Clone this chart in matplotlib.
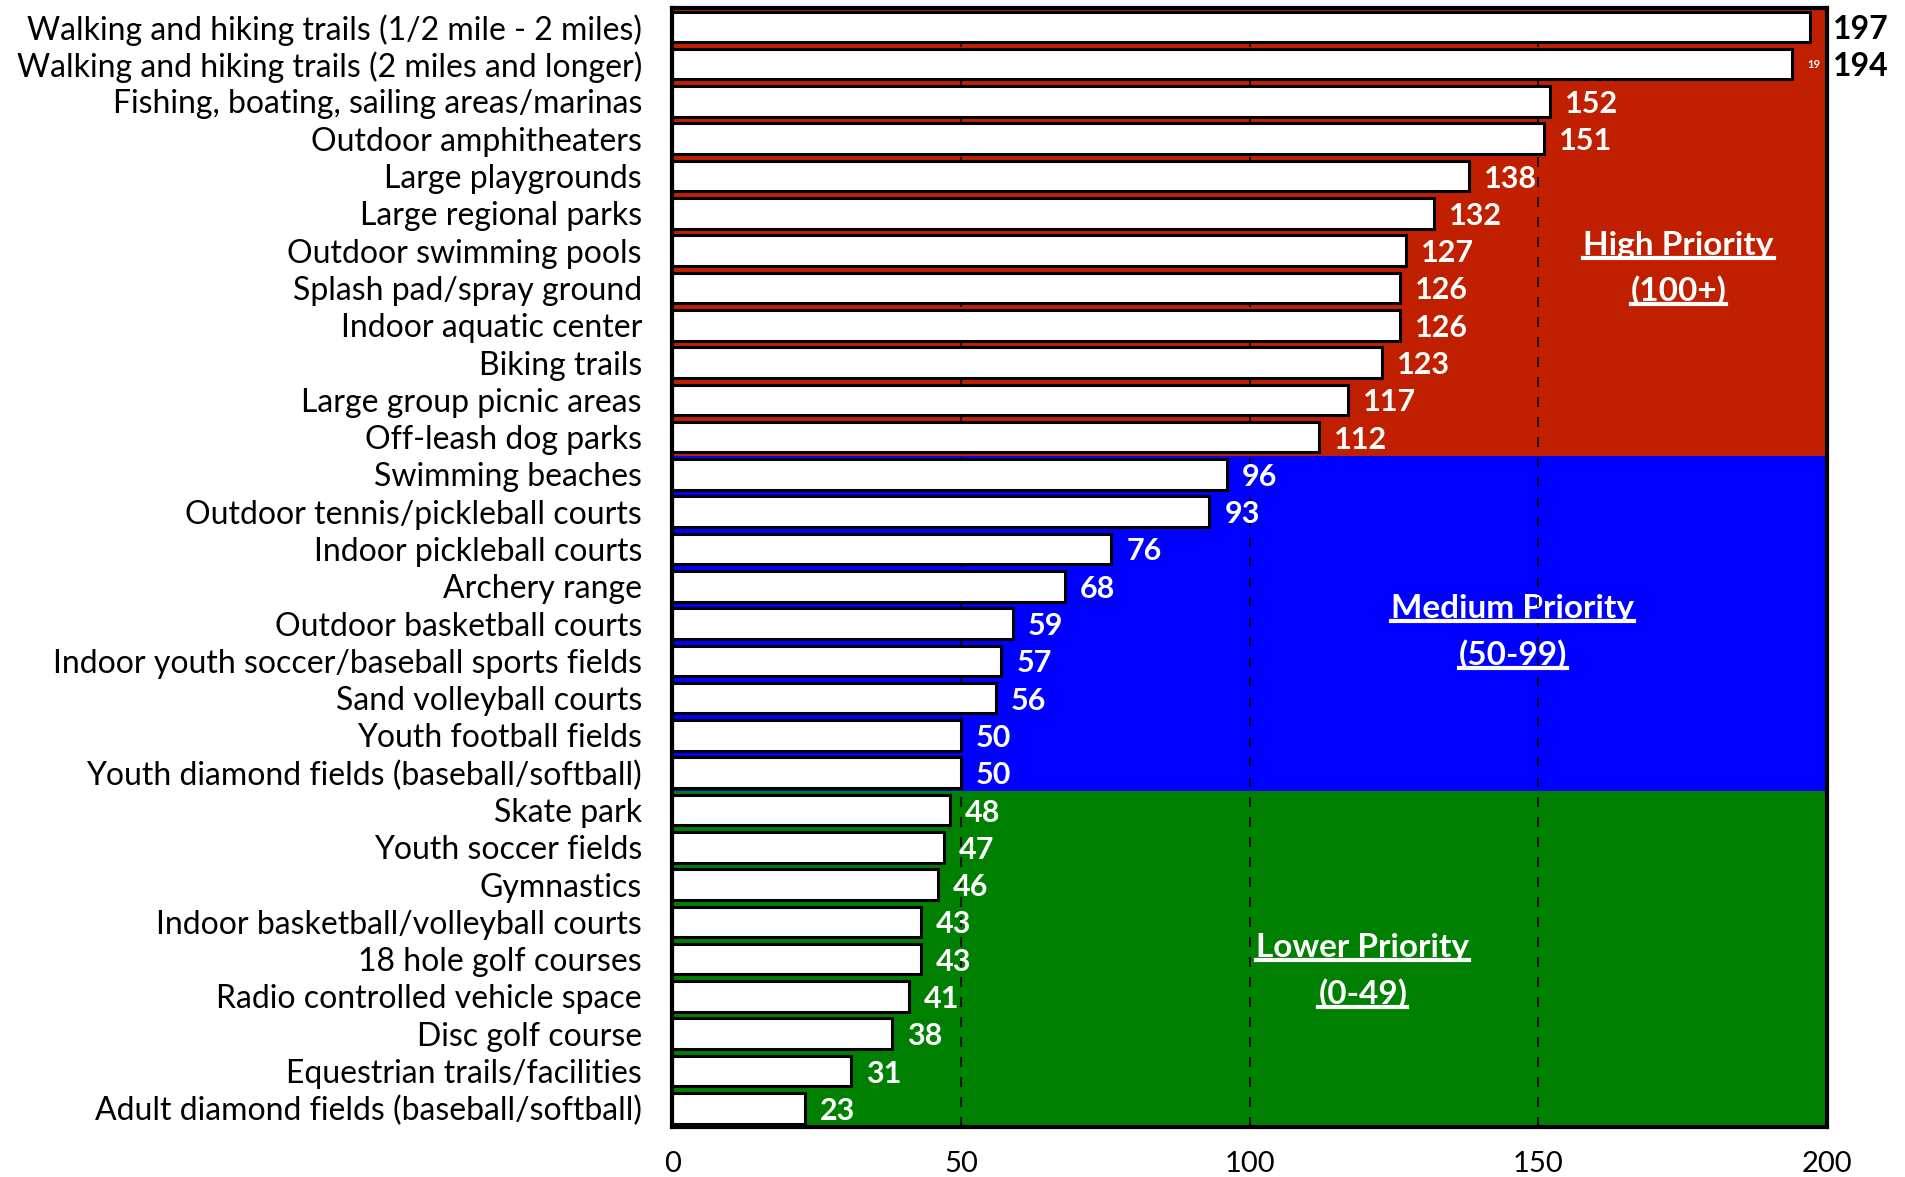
import matplotlib
matplotlib.use("Agg")
import matplotlib.pyplot as plt
from matplotlib.lines import Line2D
import numpy as np

# data
amenities = [
    "Walking and hiking trails (1/2 mile - 2 miles)",
    "Walking and hiking trails (2 miles and longer)",
    "Fishing, boating, sailing areas/marinas",
    "Outdoor amphitheaters",
    "Large playgrounds",
    "Large regional parks",
    "Outdoor swimming pools",
    "Splash pad/spray ground",
    "Indoor aquatic center",
    "Biking trails",
    "Large group picnic areas",
    "Off-leash dog parks",
    "Swimming beaches",
    "Outdoor tennis/pickleball courts",
    "Indoor pickleball courts",
    "Archery range",
    "Outdoor basketball courts",
    "Indoor youth soccer/baseball sports fields",
    "Sand volleyball courts",
    "Youth football fields",
    "Youth diamond fields (baseball/softball)",
    "Skate park",
    "Youth soccer fields",
    "Gymnastics",
    "Indoor basketball/volleyball courts",
    "18 hole golf courses",
    "Radio controlled vehicle space",
    "Disc golf course",
    "Equestrian trails/facilities",
    "Adult diamond fields (baseball/softball)",
]
scores = [197, 194, 152, 151, 138, 132, 127, 126, 126, 123, 117, 112,
          96, 93, 76, 68, 59, 57, 56, 50, 50,
          48, 47, 46, 43, 43, 41, 38, 31, 23]

priority_names = ["High Priority", "Medium Priority", "Lower Priority"]
priority_ranges = ["(100+)", "(50-99)", "(0-49)"]
priority_min = [100, 50, 0]
priority_colors = ["#C02000", "#0000FF", "#008000"]
x_max = 200

plt.rcParams['font.family'] = ['Lato', 'DejaVu Sans']

fig = plt.figure(figsize=(19.05, 11.77), dpi=100)
ax = fig.add_axes([0.353, 0.0425, 0.606, 0.9505])

y = np.arange(len(scores))

# priority group of each row
groups = []
for s in scores:
    for gi, m in enumerate(priority_min):
        if s >= m:
            groups.append(gi)
            break
groups = np.array(groups)

# coloured background bands
bg_colors = [priority_colors[g] for g in groups]
ax.barh(y, [x_max] * len(y), height=1.0, color=bg_colors, zorder=0)

# dashed gridlines
for gx in [50, 100, 150]:
    ax.axvline(gx, color="black", lw=1.2, ls=(0, (6, 6)), zorder=1.5)

# white bars
ax.barh(y, scores, height=0.82, color="white", edgecolor="black", lw=2.2, zorder=2)

# value labels
for yi, v in zip(y, scores):
    if v + 10 > x_max:
        ax.text(1.005, yi, str(v), transform=ax.get_yaxis_transform(),
                ha="left", va="center_baseline", fontsize=23, fontweight="bold",
                color="black", clip_on=False)
    else:
        ax.text(v + 2.6, yi, str(v), ha="left", va="center_baseline", fontsize=22,
                fontweight="bold", color="white", zorder=3)
# clipped leftover label on the second bar
ax.text(x_max - 1.2, 1, str(scores[1])[:2], ha="right", va="center",
        fontsize=8, fontweight="bold", color="white", zorder=3)

# priority captions (underlined)
caption_x = [174.3, 145.6, 119.6]
caption_y = [5.85, 15.6, 24.7]
caption_texts = []
for gi in range(3):
    t1 = ax.text(caption_x[gi], caption_y[gi], priority_names[gi], ha="center",
                 va="center", fontsize=24, fontweight="bold", color="white", zorder=1)
    t2 = ax.text(caption_x[gi], caption_y[gi] + 1.22, priority_ranges[gi], ha="center",
                 va="center", fontsize=24, fontweight="bold", color="white", zorder=1)
    caption_texts += [t1, t2]

ax.set_xlim(0, x_max)
ax.set_ylim(len(y) - 0.5, -0.5)
ax.set_xticks([0, 50, 100, 150, 200])
ax.set_yticks(y)
ax.set_yticklabels(amenities)
ax.tick_params(axis="y", length=0, pad=22, labelsize=23)
ax.tick_params(axis="x", length=0, pad=17, labelsize=21)
for sp in ax.spines.values():
    sp.set_color("black")
    sp.set_linewidth(3)

fig.canvas.draw()
renderer = fig.canvas.get_renderer()
for t in caption_texts:
    bb = t.get_window_extent(renderer)
    yline = bb.y0 + 2
    fig.add_artist(Line2D([bb.x0, bb.x1], [yline, yline], transform=None,
                          color="white", lw=3, zorder=5))

fig.savefig("out.png", dpi=100)
